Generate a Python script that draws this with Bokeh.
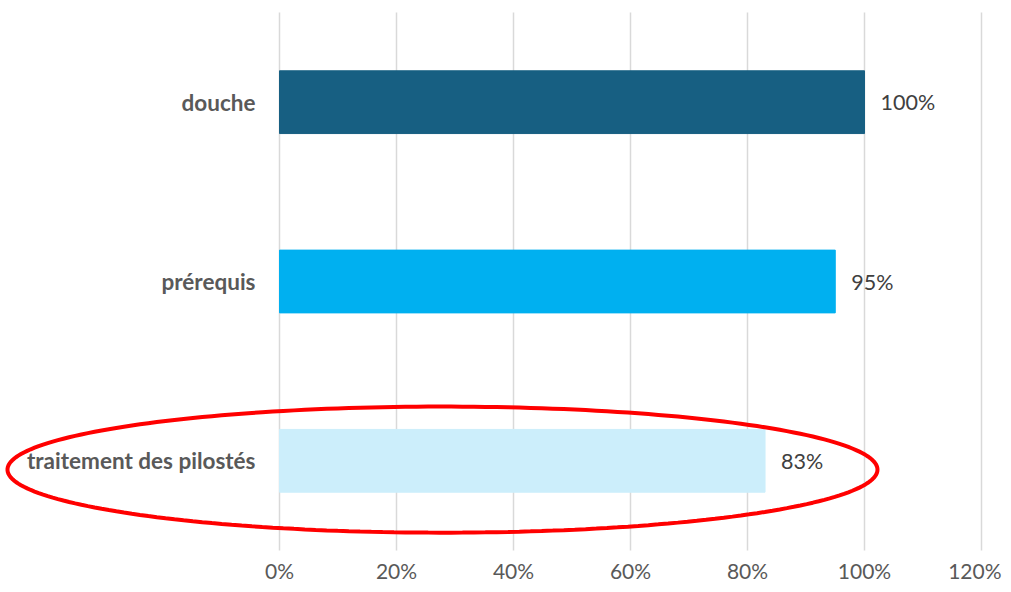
import numpy as np
from bokeh.plotting import figure
from bokeh.models import Range1d, ColumnDataSource, PolyAnnotation
from bokeh.core.properties import value
from bokeh.embed import file_html
from bokeh.resources import INLINE

# data (bottom to top)
categories = ["traitement des pilostés", "prérequis", "douche"]
values = [0.83, 0.95, 1.00]
labels = ["83%", "95%", "100%"]
colors = ["#CCEEFB", "#00B0F0", "#175F82"]
x_ticks = [0, 0.2, 0.4, 0.6, 0.8, 1.0, 1.2]
x_tick_labels = ["0%", "20%", "40%", "60%", "80%", "100%", "120%"]

FONT = "Lato"
W, H = 1003, 584
PXX = 585.0      # pixels per 100 %
PXY = 179.33     # pixels per category band
X0, Y0 = 279, 550  # screen position of x=0, y=0
n = len(categories)
pos = [i + 0.5 for i in range(n)]

p = figure(width=W, height=H, output_backend="svg", toolbar_location=None,
           x_range=Range1d(-X0 / PXX, (W - X0) / PXX),
           y_range=Range1d(-(H - Y0) / PXY, Y0 / PXY),
           min_border_left=0, min_border_right=0, min_border_top=0, min_border_bottom=0)
p.outline_line_color = None
p.background_fill_color = "white"
p.border_fill_color = "white"
p.xaxis.visible = False
p.yaxis.visible = False
p.xgrid.visible = False
p.ygrid.visible = False

# vertical gridlines at the x ticks
p.segment(x0=x_ticks, y0=[0] * len(x_ticks), x1=x_ticks, y1=[n] * len(x_ticks),
          line_color="#D9D9D9", line_width=1.5)

src = ColumnDataSource(dict(pos=pos, cat=categories, val=values, lab=labels, col=colors,
                            zero=[0] * n))
p.hbar(y="pos", right="val", left=0, height=0.35, color="col", source=src)
p.text(x="val", y="pos", text="lab", source=src, x_offset=16,
       text_align="left", text_baseline="middle", text_font=value(FONT),
       text_font_size="21.5px", text_color="#404040")
p.text(x="zero", y="pos", text="cat", source=src, x_offset=-24,
       text_align="right", text_baseline="middle", text_font=value(FONT),
       text_font_size="22.5px", text_font_style="bold", text_color="#595959")

# x tick labels (last one kept inside the right edge)
edge_room = W - 2 - (X0 + x_ticks[-1] * PXX)
tick_src = ColumnDataSource(dict(
    x=x_ticks, y=[0] * len(x_ticks), text=x_tick_labels,
    align=["center"] * (len(x_ticks) - 1) + ["right"],
    xo=[0] * (len(x_ticks) - 1) + [edge_room]))
p.text(x="x", y="y", text="text", source=tick_src, x_offset="xo", y_offset=20,
       text_align="align", text_baseline="middle", text_font=value(FONT),
       text_font_size="21px", text_color="#595959")

# red highlight ellipse (annotation)
cx, cy, rx, ry = 0.2786, 0.451, 0.7436, 0.3515
t = np.linspace(0, 2 * np.pi, 240)
ell = PolyAnnotation(xs=list(cx + rx * np.cos(t)), ys=list(cy + ry * np.sin(t)),
                     fill_color=None, fill_alpha=0, line_color="#FF0000",
                     line_alpha=1.0, line_width=4)
p.add_layout(ell)

open("out.html", "w").write(file_html(p, INLINE))
